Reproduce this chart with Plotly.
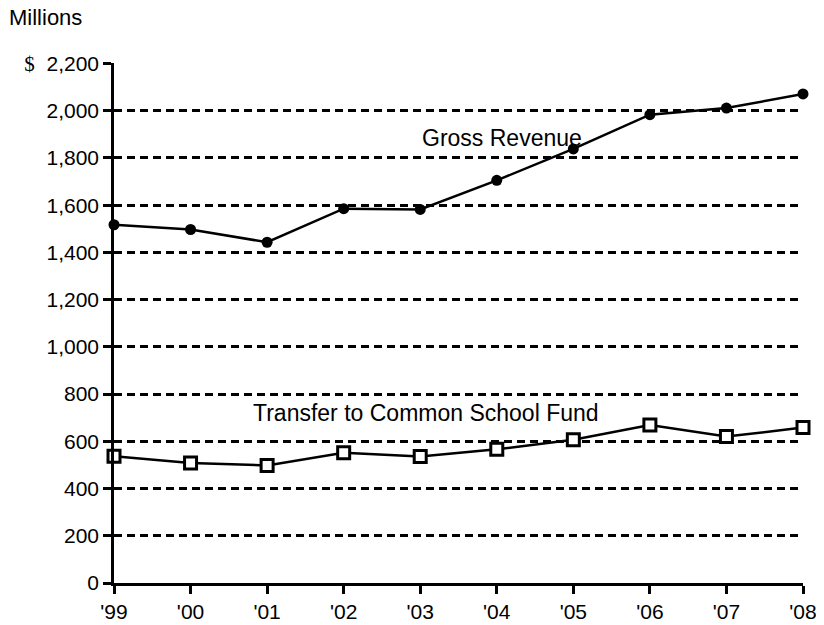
import plotly.graph_objects as go

years = ["'99", "'00", "'01", "'02", "'03", "'04", "'05", "'06", "'07", "'08"]
gross_revenue = [1517, 1497, 1443, 1585, 1582, 1705, 1838, 1983, 2011, 2071]
transfer_csf = [537, 508, 498, 552, 536, 566, 607, 669, 620, 658]
y_ticks = [0, 200, 400, 600, 800, 1000, 1200, 1400, 1600, 1800, 2000, 2200]
y_ticktext = [f"{v:,}" for v in y_ticks[:-1]] + [
    "<span style='font-family:Liberation Serif'>$</span>\u00a0\u00a02,200"]

FONT = "Liberation Sans, Arial, Helvetica, sans-serif"
# page body has an 8px margin, so the figure is sized/offset to compensate
OFF = 8
W, H = 824 - OFF, 625 - OFF
L, T = 114 - OFF, 63 - OFF
R = W - (803 - OFF)
B = H - (583 - OFF)

xs = list(range(len(years)))

fig = go.Figure()
fig.add_trace(go.Scatter(
    x=xs, y=gross_revenue, mode="lines+markers",
    line=dict(color="black", width=2.5),
    marker=dict(symbol="circle", size=11, color="black"),
    cliponaxis=False, showlegend=False, hoverinfo="skip"))
fig.add_trace(go.Scatter(
    x=xs, y=transfer_csf, mode="lines+markers",
    line=dict(color="black", width=2.5),
    marker=dict(symbol="square", size=12, color="white",
                line=dict(color="black", width=3)),
    cliponaxis=False, showlegend=False, hoverinfo="skip"))

fig.update_layout(
    template="none",
    width=W, height=H,
    margin=dict(l=L, r=R, t=T, b=B, pad=0, autoexpand=False),
    paper_bgcolor="white", plot_bgcolor="white",
    font=dict(family=FONT, size=21, color="black"),
    xaxis=dict(
        range=[0, len(years) - 1], tickvals=xs, ticktext=years,
        showgrid=False, zeroline=False, automargin=False,
        showline=True, linecolor="black", linewidth=2.5,
        ticks="outside", ticklen=8, tickwidth=2.5, tickcolor="black",
        tickfont=dict(family=FONT, size=21, color="black"),
    ),
    yaxis=dict(
        range=[0, 2202], tickvals=y_ticks, ticktext=y_ticktext,
        showgrid=True, gridcolor="black", gridwidth=2.5, griddash="8px,5px",
        zeroline=False, automargin=False,
        showline=True, linecolor="black", linewidth=2.5,
        ticks="outside", ticklen=8, tickwidth=2.5, tickcolor="black",
        tickfont=dict(family=FONT, size=21, color="black"),
    ),
    annotations=[
        dict(text="Millions", xref="paper", yref="paper",
             x=(0 - L) / (W - L - R), y=(H - B - (17 - OFF)) / (H - T - B),
             xanchor="left", yanchor="middle", showarrow=False, borderpad=0,
             font=dict(family=FONT, size=22, color="black")),
        dict(text="Gross Revenue", xref="x", yref="y",
             x=3.994, y=1883, xanchor="left", yanchor="middle",
             showarrow=False, font=dict(family=FONT, size=23, color="black")),
        dict(text="Transfer to Common School Fund", xref="x", yref="y",
             x=1.79, y=719, xanchor="left", yanchor="middle",
             showarrow=False, font=dict(family=FONT, size=23, color="black")),
    ],
)

fig.write_html("out.html")
